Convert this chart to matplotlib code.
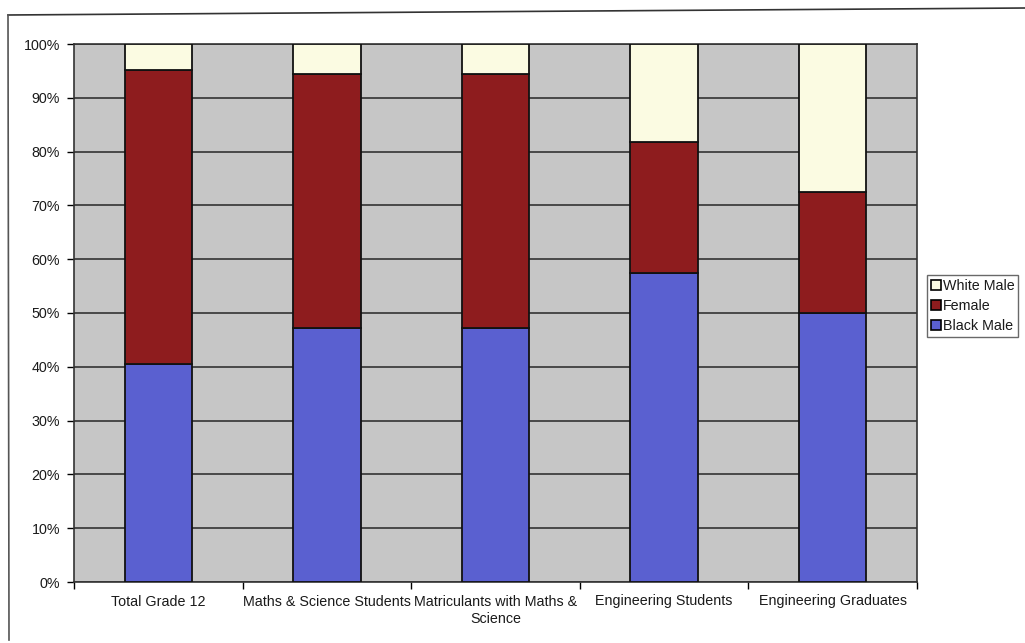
import matplotlib.pyplot as plt
import numpy as np
from matplotlib.lines import Line2D

plt.rcParams['font.family'] = ['Liberation Sans', 'DejaVu Sans']
plt.rcParams['text.color'] = '#1a1a1a'
plt.rcParams['xtick.labelcolor'] = '#1a1a1a'
plt.rcParams['ytick.labelcolor'] = '#1a1a1a'

categories = ['Total Grade 12', 'Maths & Science Students',
              'Matriculants with Maths &\nScience', 'Engineering Students',
              'Engineering Graduates']
black_male = [40.5, 47.2, 47.3, 57.5, 50.0]
female = [54.6, 47.3, 47.2, 24.3, 22.5]
white_male = [4.9, 5.5, 5.5, 18.2, 27.5]

colors = {'Black Male': '#5a60d0', 'Female': '#8e1c1e', 'White Male': '#fbfbe2'}

fig = plt.figure(figsize=(10.25, 6.43), dpi=100)
ax = fig.add_axes([74 / 1025, 1 - 582 / 643, (917 - 74) / 1025, (582 - 44) / 643])
ax.set_facecolor('#c6c6c6')

x = np.arange(len(categories))
width = 0.40
bottom = np.zeros(len(categories))
for name, vals in [('Black Male', black_male), ('Female', female), ('White Male', white_male)]:
    ax.bar(x, vals, width, bottom=bottom, color=colors[name], edgecolor='#111111',
           linewidth=1.3, label=name, zorder=3)
    bottom += np.array(vals)

ax.set_xlim(-0.5, len(categories) - 0.5)
ax.set_ylim(0, 100)
ax.set_yticks(np.arange(0, 101, 10))
ax.set_yticklabels([f'{v}%' for v in range(0, 101, 10)], fontsize=10.3)
ax.yaxis.grid(True, color='#262626', linewidth=1.1, zorder=1)
ax.set_axisbelow(True)

# category labels sit between the boundary ticks
ax.set_xticks(np.arange(-0.5, len(categories), 1))
ax.set_xticklabels([])
ax.set_xticks(x, minor=True)
ax.set_xticklabels(categories, minor=True, fontsize=10.3, ha='center', va='top',
                   linespacing=1.35)
ax.tick_params(axis='x', which='minor', length=0, pad=9)
ax.tick_params(axis='x', which='major', length=5, direction='out', width=1)
ax.tick_params(axis='y', length=5, direction='out', width=1, pad=5)

for s in ax.spines.values():
    s.set_color('#333333')
    s.set_linewidth(1.2)

handles = [plt.Rectangle((0, 0), 1, 1, facecolor=colors[n], edgecolor='black', linewidth=1.2)
           for n in ['White Male', 'Female', 'Black Male']]
leg = fig.legend(handles, ['White Male', 'Female', 'Black Male'],
                 loc='upper left', bbox_to_anchor=(927 / 1025, 1 - 275 / 643),
                 fontsize=10.3, frameon=True, fancybox=False, handlelength=0.7,
                 handleheight=0.7, handletextpad=0.15, borderpad=0.25,
                 borderaxespad=0, labelspacing=0.45)
leg.get_frame().set_edgecolor('#444444')
leg.get_frame().set_linewidth(1.0)

# outer frame lines
fig.add_artist(Line2D([8 / 1025, 1.0], [1 - 15 / 643, 1 - 8 / 643], color='#333333', linewidth=1.2))
fig.add_artist(Line2D([8 / 1025, 9 / 1025], [1 - 15 / 643, 1 - 640 / 643], color='#555555', linewidth=1.2))

fig.savefig('out.png', dpi=100)
